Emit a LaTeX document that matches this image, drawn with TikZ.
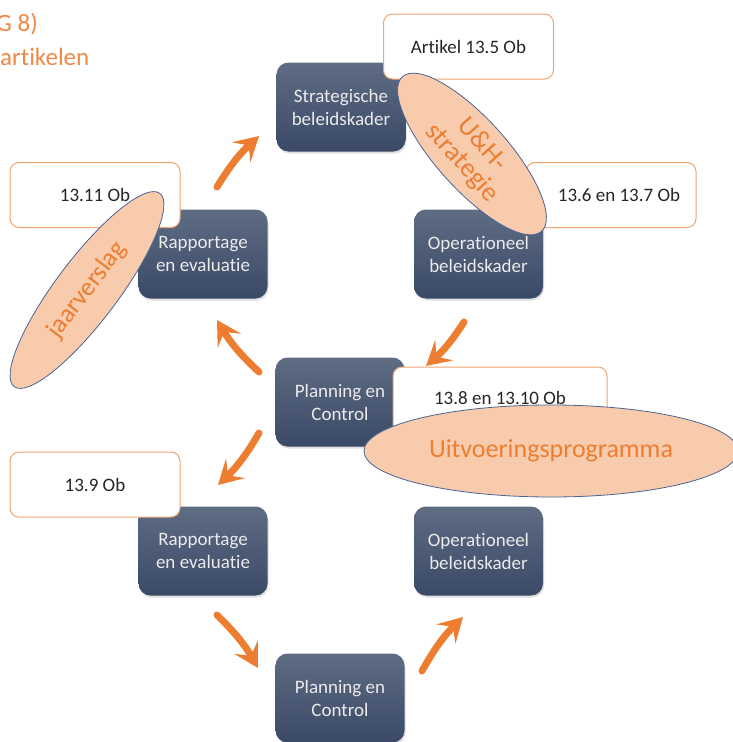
\documentclass[tikz,border=0pt]{standalone}
\usepackage{fontspec}
\setmainfont{Carlito}[Ligatures=NoCommon]
\usetikzlibrary{shapes.geometric,arrows.meta,shadows}
\definecolor{boxtop}{HTML}{5E6C84}
\definecolor{boxbot}{HTML}{3A4966}
\definecolor{orng}{HTML}{ED7D31}
\definecolor{peach}{HTML}{F8CBAD}
\definecolor{eborder}{HTML}{4A6495}
\definecolor{txt}{HTML}{262626}
\tikzset{
  darkbox/.style={rounded corners=12pt, top color=boxtop, bottom color=boxbot,
    minimum width=129pt, minimum height=89pt, text=white!92!black, align=center,
    font=\fontsize{19}{23}\selectfont, inner sep=1pt,
    drop shadow={opacity=0.25, shadow xshift=1pt, shadow yshift=-2pt}},
  notebox/.style={rounded corners=9pt, draw=orng!70, line width=1pt, fill=white,
    minimum width=170pt, minimum height=65pt, text=txt, font=\fontsize{19}{21}\selectfont},
  peachell/.style={ellipse, draw=eborder, line width=0.8pt, fill=peach, text=orng,
    inner sep=0pt, align=center},
  flowarrow/.style={draw=orng, line width=7pt, line cap=round,
    -{Stealth[length=24pt, width=27pt, inset=10pt]}},
  heading/.style={text=orng!90, font=\fontsize{25}{26}\selectfont, inner sep=0pt}
}
\begin{document}
\begin{tikzpicture}[x=1pt,y=-1pt]
\useasboundingbox (0,0) rectangle (733,742);
\clip (0,0) rectangle (733,742);
% heading
\node[heading, anchor=west] (h1) at (-4,24) {G 8)};
\node[heading, anchor=west] (h2) at (0,57) {artikelen};
% dark boxes
\node[darkbox] (sb) at (341,107) {Strategische\\beleidskader};
\node[darkbox] (ob1) at (478.5,254) {Operationeel\\beleidskader};
\node[darkbox] (re1) at (203,254) {Rapportage\\en evaluatie};
\node[darkbox] (pc1) at (340,402) {Planning en\\Control};
\node[darkbox] (re2) at (203,551) {Rapportage\\en evaluatie};
\node[darkbox] (ob2) at (478.5,551) {Operationeel\\beleidskader};
\node[darkbox] (pc2) at (340,698) {Planning en\\Control};
% note boxes
\node[notebox] (n1) at (468.5,46.5) {Artikel 13.5 Ob};
\node[notebox] (n2) at (611,195) {\hspace*{16pt}13.6 en 13.7 Ob};
\node[notebox] (n3) at (95,195) {13.11 Ob};
\node[notebox, minimum width=214pt, minimum height=66pt] (n4) at (500,400) {\raisebox{5pt}{13.8 en 13.10 Ob}};
\node[notebox] (n5) at (95,484.5) {13.9 Ob};
% ellipses
\node[peachell, rotate=-48, minimum width=208pt, minimum height=64pt,
  font=\fontsize{27}{27}\selectfont] (uh) at (472,154) {U\&H-\\strategie};
\node[peachell, rotate=53, minimum width=242pt, minimum height=62pt,
  font=\fontsize{26}{26}\selectfont] (jv) at (87,290) {jaarverslag};
\node[peachell, minimum width=374pt, minimum height=92pt,
  font=\fontsize{26}{26}\selectfont] (up) at (551,451) {Uitvoeringsprogramma};
% arrows
\coordinate (a1s) at (217,187);
\coordinate (a1e) at (259,136);
\coordinate (a2s) at (464,322);
\coordinate (a2e) at (426,366);
\coordinate (a3s) at (259,372);
\coordinate (a3e) at (217,320);
\coordinate (a4s) at (259,433);
\coordinate (a4e) at (218,485);
\coordinate (a5s) at (217,615);
\coordinate (a5e) at (258,668);
\coordinate (a6s) at (422,671);
\coordinate (a6e) at (463,617);
\draw[flowarrow] (a1s) to[bend left=8] (a1e);
\draw[flowarrow] (a2s) to[bend left=8] (a2e);
\draw[flowarrow] (a3s) to[bend left=8] (a3e);
\draw[flowarrow] (a4s) to[bend left=8] (a4e);
\draw[flowarrow] (a5s) to[bend left=8] (a5e);
\draw[flowarrow] (a6s) to[bend left=8] (a6e);
\end{tikzpicture}
\end{document}
